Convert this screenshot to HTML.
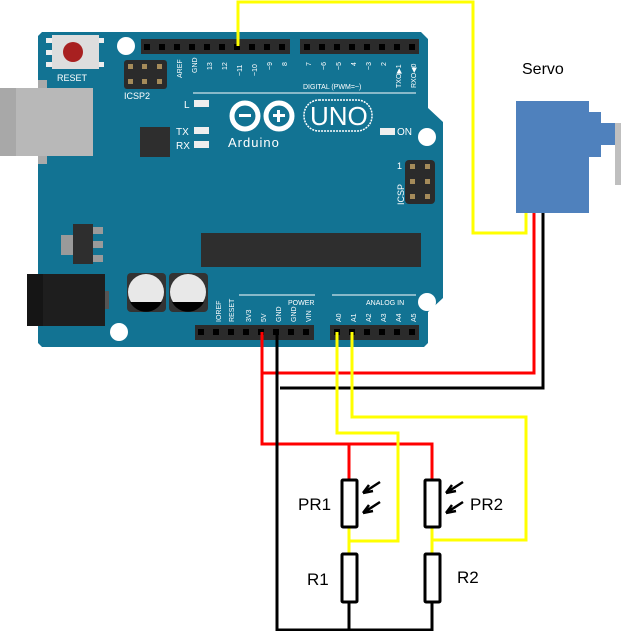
<!DOCTYPE html>
<html><head><style>body{margin:0;background:#fff}svg{display:block}text{font-family:"Liberation Sans",sans-serif}</style></head><body>
<svg width="634" height="631" viewBox="0 0 634 631" xmlns="http://www.w3.org/2000/svg">
<!-- board -->
<path d="M42,32 L421,32 L428,39 L428,108 L443,122 L443,298 L428,312 L428,343 L424,347 L42,347 L38,343 L38,36 Z" fill="#127393"/>
<circle cx="126" cy="46" r="9" fill="#fff"/>
<circle cx="427" cy="137" r="9" fill="#fff"/>
<circle cx="427" cy="302" r="9" fill="#fff"/>
<circle cx="119" cy="332" r="9" fill="#fff"/>
<!-- reset -->
<rect x="52" y="35" width="47" height="34" fill="#ddd"/>
<rect x="46" y="38" width="6" height="5" fill="#eee"/><rect x="46" y="50" width="6" height="5" fill="#eee"/><rect x="46" y="62" width="6" height="5" fill="#eee"/>
<rect x="99" y="38" width="5" height="5" fill="#eee"/><rect x="99" y="62" width="5" height="5" fill="#eee"/>
<circle cx="73" cy="52" r="10" fill="#a82020"/>
<text x="57" y="81" font-size="9" fill="#fff">RESET</text>
<!-- usb -->
<rect x="38" y="80" width="9" height="84" fill="#aaa"/>
<rect x="0" y="88" width="93" height="68" fill="#b8b8b8"/>
<rect x="0" y="88" width="16" height="68" fill="#a8a8a8"/>
<rect x="38" y="156" width="9" height="8" fill="#aaa"/>
<!-- icsp2 -->
<rect x="124" y="60" width="43" height="29" rx="3" fill="#2b2b2b"/>
<g fill="#a58b5a"><rect x="128" y="64" width="5" height="5"/><rect x="142" y="64" width="5" height="5"/><rect x="157" y="64" width="5" height="5"/><rect x="128" y="79" width="5" height="5"/><rect x="142" y="79" width="5" height="5"/><rect x="157" y="79" width="5" height="5"/></g>
<text x="124" y="99" font-size="9" fill="#fff">ICSP2</text>
<!-- headers -->
<rect x="141" y="39" width="149" height="15" fill="#2b2b2b"/>
<rect x="300" y="39" width="119" height="15" fill="#2b2b2b"/>
<rect x="195" y="325" width="119" height="15" fill="#2b2b2b"/>
<rect x="330" y="325" width="89" height="15" fill="#2b2b2b"/>
<g fill="#000">
<rect x="144" y="44" width="6" height="6"/><rect x="159" y="44" width="6" height="6"/><rect x="174" y="44" width="6" height="6"/><rect x="189" y="44" width="6" height="6"/><rect x="204" y="44" width="6" height="6"/><rect x="219" y="44" width="6" height="6"/><rect x="234" y="44" width="6" height="6"/><rect x="249" y="44" width="6" height="6"/><rect x="264" y="44" width="6" height="6"/><rect x="279" y="44" width="6" height="6"/>
<rect x="304" y="44" width="6" height="6"/><rect x="319" y="44" width="6" height="6"/><rect x="334" y="44" width="6" height="6"/><rect x="349" y="44" width="6" height="6"/><rect x="364" y="44" width="6" height="6"/><rect x="379" y="44" width="6" height="6"/><rect x="394" y="44" width="6" height="6"/><rect x="409" y="44" width="6" height="6"/>
<rect x="198" y="329" width="6" height="6"/><rect x="213" y="329" width="6" height="6"/><rect x="228" y="329" width="6" height="6"/><rect x="243" y="329" width="6" height="6"/><rect x="258" y="329" width="6" height="6"/><rect x="273" y="329" width="6" height="6"/><rect x="288" y="329" width="6" height="6"/><rect x="303" y="329" width="6" height="6"/>
<rect x="334" y="329" width="6" height="6"/><rect x="349" y="329" width="6" height="6"/><rect x="364" y="329" width="6" height="6"/><rect x="379" y="329" width="6" height="6"/><rect x="394" y="329" width="6" height="6"/><rect x="409" y="329" width="6" height="6"/>
</g>
<!-- pin labels -->
<g font-size="7" fill="#fff">
<text transform="translate(182,78) rotate(-90)">AREF</text>
<text transform="translate(197,73) rotate(-90)">GND</text>
<text transform="translate(212,70) rotate(-90)">13</text>
<text transform="translate(227,70) rotate(-90)">12</text>
<text transform="translate(242,76) rotate(-90)">~11</text>
<text transform="translate(257,76) rotate(-90)">~10</text>
<text transform="translate(272,70) rotate(-90)">~9</text>
<text transform="translate(287,66) rotate(-90)">8</text>
<text transform="translate(311,66) rotate(-90)">7</text>
<text transform="translate(326,70) rotate(-90)">~6</text>
<text transform="translate(341,70) rotate(-90)">~5</text>
<text transform="translate(356,66) rotate(-90)">4</text>
<text transform="translate(371,70) rotate(-90)">~3</text>
<text transform="translate(386,66) rotate(-90)">2</text>
<text transform="translate(401,88) rotate(-90)">TXO▶1</text>
<text transform="translate(416,88) rotate(-90)">RXO◀0</text>
<text x="303" y="89">DIGITAL (PWM=~)</text>
<text transform="translate(221,322) rotate(-90)">IOREF</text>
<text transform="translate(234,322) rotate(-90)">RESET</text>
<text transform="translate(251,322) rotate(-90)">3V3</text>
<text transform="translate(266,322) rotate(-90)">5V</text>
<text transform="translate(281,322) rotate(-90)">GND</text>
<text transform="translate(296,322) rotate(-90)">GND</text>
<text transform="translate(311,322) rotate(-90)">VIN</text>
<text x="288" y="305">POWER</text>
<text transform="translate(341,322) rotate(-90)">A0</text>
<text transform="translate(356,322) rotate(-90)">A1</text>
<text transform="translate(371,322) rotate(-90)">A2</text>
<text transform="translate(386,322) rotate(-90)">A3</text>
<text transform="translate(401,322) rotate(-90)">A4</text>
<text transform="translate(416,322) rotate(-90)">A5</text>
<text x="366" y="305">ANALOG IN</text>
</g>
<line x1="193" y1="93" x2="416" y2="93" stroke="#fff" stroke-width="1"/>
<line x1="239" y1="295" x2="315" y2="295" stroke="#fff" stroke-width="1"/>
<line x1="332" y1="295" x2="416" y2="295" stroke="#fff" stroke-width="1"/>
<!-- LEDs -->
<g fill="#eee"><rect x="194" y="100" width="15" height="7"/><rect x="194" y="127" width="15" height="7"/><rect x="194" y="141" width="15" height="7"/><rect x="380" y="128" width="15" height="7"/></g>
<g font-size="10" fill="#fff"><text x="184" y="108">L</text><text x="176" y="135">TX</text><text x="176" y="149">RX</text><text x="397" y="135">ON</text></g>
<!-- logo -->
<circle cx="245" cy="116" r="13" fill="none" stroke="#fff" stroke-width="5"/>
<circle cx="279" cy="116" r="13" fill="none" stroke="#fff" stroke-width="5"/>
<rect x="239" y="114" width="12" height="3" fill="#fff"/>
<rect x="273" y="114" width="12" height="3" fill="#fff"/><rect x="277" y="110" width="3" height="12" fill="#fff"/>
<rect x="304" y="100" width="68" height="31" rx="15" fill="none" stroke="#fff" stroke-width="1.5" stroke-dasharray="2,1"/>
<text x="310" y="125" font-size="26" fill="#fff">UNO</text>
<text x="228" y="147" font-size="13" fill="#fff" letter-spacing="1">Arduino</text>
<!-- chips -->
<rect x="140" y="127" width="30" height="30" fill="#2e2e2e"/>
<rect x="201" y="233" width="220" height="34" fill="#2e2e2e"/>
<rect x="61" y="235" width="13" height="20" fill="#9a9a9a"/>
<rect x="73" y="224" width="20" height="40" fill="#2e2e2e"/>
<g fill="#9a9a9a"><rect x="93" y="227" width="10" height="7"/><rect x="93" y="241" width="10" height="7"/><rect x="93" y="255" width="10" height="7"/></g>
<!-- power jack -->
<rect x="27" y="274" width="78" height="52" fill="#1e1e1e"/>
<rect x="27" y="274" width="16" height="52" fill="#151515"/>
<rect x="105" y="291" width="4" height="18" fill="#555"/>
<!-- caps -->
<rect x="127" y="273" width="39" height="39" rx="4" fill="#333"/>
<rect x="169" y="273" width="39" height="39" rx="4" fill="#333"/>
<circle cx="146" cy="292" r="18" fill="#e8e8e8"/>
<circle cx="188" cy="292" r="18" fill="#e8e8e8"/>
<path d="M130,302 A18,18 0 0 0 162,302 Z" fill="#000"/>
<path d="M172,302 A18,18 0 0 0 204,302 Z" fill="#000"/>
<!-- ICSP -->
<rect x="405" y="160" width="30" height="44" rx="4" fill="#2b2b2b"/>
<g fill="#a58b5a"><rect x="410" y="164" width="5" height="5"/><rect x="425" y="164" width="5" height="5"/><rect x="410" y="179" width="5" height="5"/><rect x="425" y="179" width="5" height="5"/><rect x="410" y="194" width="5" height="5"/><rect x="425" y="194" width="5" height="5"/></g>
<text x="397" y="169" font-size="9" fill="#fff">1</text>
<text transform="translate(404,205) rotate(-90)" font-size="9" fill="#fff">ICSP</text>
<!-- servo -->
<text x="522" y="74" font-size="16" fill="#000">Servo</text>
<rect x="516" y="101" width="73" height="112" fill="#4f81bd"/>
<rect x="588" y="112" width="13" height="45" fill="#4f81bd"/>
<rect x="600" y="123" width="15" height="22" fill="#4f81bd"/>
<rect x="615" y="123" width="6" height="62" fill="#bfbfbf"/>
<!-- wires -->
<g fill="none" stroke-width="3" stroke-linejoin="miter">
<polyline points="238,46 238,2 473,2 473,233 526,233 526,213" stroke="#ffff00"/>
<polyline points="262,332 262,373 534,373 534,213" stroke="#ff0000"/>
<polyline points="262,373 262,444 432,444 432,479" stroke="#ff0000"/>
<line x1="349" y1="444" x2="349" y2="479" stroke="#ff0000"/>
<polyline points="280,388 543,388 543,213" stroke="#000"/>
<polyline points="277,332 277,630 432,630 432,602" stroke="#000"/>
<line x1="349" y1="602" x2="349" y2="630" stroke="#000"/>
<polyline points="337,332 337,433 398,433 398,541 349,541" stroke="#ffff00"/>
<polyline points="352,332 352,417 526,417 526,540 432,540" stroke="#ffff00"/>
<line x1="349" y1="527" x2="349" y2="553" stroke="#ffff00"/>
<line x1="432" y1="527" x2="432" y2="553" stroke="#ffff00"/>
</g>
<!-- resistors -->
<g fill="#fff" stroke="#000" stroke-width="3">
<rect x="342" y="480" width="15" height="47" rx="1"/>
<rect x="425" y="480" width="15" height="47" rx="1"/>
<rect x="342" y="554" width="15" height="48" rx="1"/>
<rect x="425" y="554" width="15" height="48" rx="1"/>
</g>
<g stroke="#000" stroke-width="2.5" fill="none">
<path d="M380,482 L363,493 M363,493 L373,491 M363,493 L369,485"/>
<path d="M380,502 L363,513 M363,513 L373,511 M363,513 L369,505"/>
<path d="M463,482 L446,493 M446,493 L456,491 M446,493 L452,485"/>
<path d="M463,502 L446,513 M446,513 L456,511 M446,513 L452,505"/>
</g>
<g font-size="17" fill="#000">
<text x="298" y="510">PR1</text>
<text x="470" y="510">PR2</text>
<text x="307" y="585">R1</text>
<text x="457" y="583">R2</text>
</g>
</svg>
</body></html>
